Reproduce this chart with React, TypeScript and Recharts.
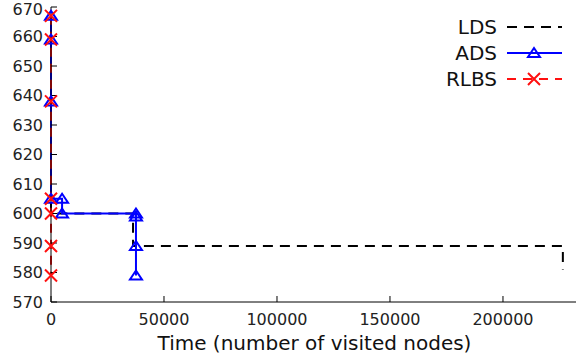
import { LineChart, Line, XAxis, YAxis, Legend } from 'recharts';

// values (time = visited nodes, cost = objective)
const ldsTime = [0, 0, 0, 0, 0, 36300, 36300, 226500, 226500];
const ldsCost = [667, 659, 638, 605, 600, 600, 589, 589, 581];
const adsTime = [0, 0, 0, 0, 4900, 4900, 37600, 37600, 37600, 37600];
const adsCost = [667, 659, 638, 605, 605, 600, 600, 599, 589, 579];
const rlbsTime = [0, 0, 0, 0, 0, 0, 0];
const rlbsCost = [667, 659, 638, 605, 600, 589, 579];

const xTicks = [0, 50000, 100000, 150000, 200000];
const yTicks = [570, 580, 590, 600, 610, 620, 630, 640, 650, 660, 670];
const seriesNames = ['LDS', 'ADS', 'RLBS'];

const toPoints = (xs: number[], ys: number[]) => xs.map((x, i) => ({ x, y: ys[i] }));

const ldsData = toPoints(ldsTime, ldsCost);
const adsData = toPoints(adsTime, adsCost);
const rlbsData = toPoints(rlbsTime, rlbsCost);

const BLUE = '#0000ff';
const RED = '#ff1010';
const BLACK = '#000000';
const FONT = '"DejaVu Sans", Verdana, sans-serif';

const Triangle = ({ cx, cy }: { cx: number; cy: number }) => (
  <polygon
    points={`${cx},${cy - 5} ${cx - 6},${cy + 4} ${cx + 6},${cy + 4}`}
    fill="none"
    stroke={BLUE}
    strokeWidth={2}
  />
);

const Cross = ({ cx, cy }: { cx: number; cy: number }) => (
  <path
    d={`M${cx - 6},${cy - 6}L${cx + 6},${cy + 6}M${cx - 6},${cy + 6}L${cx + 6},${cy - 6}`}
    stroke={RED}
    strokeWidth={2}
  />
);

const KeyBox = () => (
  <svg width={180} height={80} style={{ display: 'block' }}>
    {seriesNames.map((name, i) => {
      const y = 13 + i * 26;
      return (
        <g key={name}>
          <text
            x={107}
            y={y}
            textAnchor="end"
            dominantBaseline="central"
            fontFamily={FONT}
            fontSize={20}
            fill="#111"
          >
            {name}
          </text>
          {i === 0 && (
            <line x1={117} x2={172} y1={y} y2={y} stroke={BLACK} strokeWidth={2} strokeDasharray="10 7" />
          )}
          {i === 1 && (
            <g>
              <line x1={117} x2={172} y1={y} y2={y} stroke={BLUE} strokeWidth={2} />
              <Triangle cx={144} cy={y} />
            </g>
          )}
          {i === 2 && (
            <g>
              <line x1={117} x2={172} y1={y} y2={y} stroke={RED} strokeWidth={2} strokeDasharray="9 7" />
              <Cross cx={144} cy={y} />
            </g>
          )}
        </g>
      );
    })}
  </svg>
);

const tickStyle = { fontFamily: FONT, fontSize: 16, fill: '#222' };

// y tick label; the top one is nudged down so it is not cut by the page edge
const YTick = (p: any) => (
  <text
    x={p.x}
    y={Math.max(p.y, 9)}
    textAnchor="end"
    dominantBaseline="central"
    fontFamily={FONT}
    fontSize={16}
    fill="#222"
  >
    {p.payload.value}
  </text>
);

export default function App() {
  return (
    <div style={{ position: 'absolute', left: 0, top: 0, width: 576, height: 358, overflow: 'hidden', background: '#fff' }}>
      <LineChart width={600} height={358} margin={{ top: 7, right: 22, bottom: 0, left: 0 }}>
        <XAxis
          xAxisId="bottom"
          dataKey="x"
          type="number"
          domain={[0, 233200]}
          ticks={xTicks}
          allowDuplicatedCategory={false}
          height={56}
          stroke={BLACK}
          tickSize={-6}
          tickMargin={18}
          tick={tickStyle}
          label={{ value: 'Time (number of visited nodes)', position: 'insideBottom', offset: 8, style: { fontFamily: FONT, fontSize: 20, fill: '#111' } }}
        />
        <XAxis
          xAxisId="top"
          dataKey="x"
          type="number"
          orientation="top"
          domain={[0, 233200]}
          ticks={xTicks}
          height={0}
          stroke={BLACK}
          tickSize={-6}
          tick={() => <g />}
        />
        <YAxis
          dataKey="y"
          type="number"
          domain={[570, 670]}
          ticks={yTicks}
          width={51}
          stroke={BLACK}
          tickSize={-6}
          tickMargin={14}
          tick={YTick}
          interval={0}
        />
        <Legend
          layout="horizontal"
          verticalAlign="middle"
          align="center"
          content={() => <KeyBox />}
          wrapperStyle={{ position: 'absolute', left: 390, top: 14, width: 180, height: 80 }}
        />
        <Line
          xAxisId="bottom"
          data={ldsData}
          dataKey="y"
          name="LDS"
          type="linear"
          stroke={BLACK}
          strokeWidth={2}
          strokeDasharray="10 7"
          dot={false}
          isAnimationActive={false}
        />
        <Line
          xAxisId="bottom"
          data={adsData}
          dataKey="y"
          name="ADS"
          type="linear"
          stroke={BLUE}
          strokeWidth={2}
          dot={(p: any) => <Triangle key={`a-${p.index}`} cx={p.cx} cy={p.cy} />}
          isAnimationActive={false}
        />
        <Line
          xAxisId="bottom"
          data={rlbsData}
          dataKey="y"
          name="RLBS"
          type="linear"
          stroke={RED}
          strokeWidth={2}
          strokeDasharray="9 7"
          dot={(p: any) => <Cross key={`r-${p.index}`} cx={p.cx} cy={p.cy} />}
          isAnimationActive={false}
        />
      </LineChart>
    </div>
  );
}
